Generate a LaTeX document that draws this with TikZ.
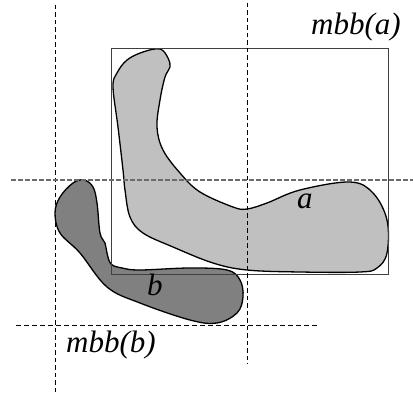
\documentclass[tikz,border=0pt]{standalone}
\usepackage{fontspec}
\setmainfont{Liberation Serif}[ItalicFont={Liberation Serif Italic}]
\begin{document}
\begin{tikzpicture}[x=1pt,y=-1pt,
  blob/.style={draw=black,line width=1.3pt},
  vguide/.style={black,line width=0.7pt,dash pattern=on 4.5pt off 3pt},
  hguideA/.style={gray!85!black,line width=1.1pt,dash pattern=on 4.5pt off 2.5pt},
  hguideB/.style={black,line width=0.8pt,dash pattern=on 5pt off 3pt},
  lbl/.style={font=\itshape\fontsize{31}{34}\selectfont,inner sep=0pt,anchor=base west}]
\useasboundingbox (0,0) rectangle (413,396);
% shape b
\draw[blob,fill={rgb,255:red,128;green,128;blue,128}] plot[smooth cycle,tension=0.6] coordinates {
 (84,180) (93,187) (97,203) (100,233) (105,243) (107,253) (111,264) (122,268) (140,270)
 (190,268) (227,270) (240,280) (243,297) (237,313) (217,323) (190,320) (140,303)
 (107,287) (80,253) (60,233) (55,213) (60,197) (73,183)};
% shape a
\draw[blob,fill={rgb,255:red,192;green,192;blue,192}] plot[smooth cycle,tension=0.6] coordinates {
 (160,49) (168,58) (170,67) (165,77) (160,100) (157,127) (163,150) (180,173) (200,192)
 (233,207) (247,209) (267,203) (300,190) (350,182) (373,193) (387,220) (387,253)
 (377,268) (360,272) (300,272) (247,270) (213,263) (173,247) (143,233) (130,217)
 (125,190) (123,170) (118,127) (113,87) (117,73) (127,60) (143,52)};
% mbb(a)
\draw[gray!50!black,line width=0.8pt] (111,48) rectangle (388,274);
% guides
\coordinate (v1t) at (55,5); \coordinate (v1b) at (55,394);
\coordinate (v2t) at (247,3); \coordinate (v2b) at (247,364);
\coordinate (h1l) at (11,180); \coordinate (h1r) at (413,180);
\coordinate (h2l) at (16,325); \coordinate (h2r) at (317,325);
\draw[vguide] (v1t) -- (v1b);
\draw[vguide] (v2t) -- (v2b);
\draw[hguideA] (h1l) -- (h1r);
\draw[hguideB] (h2l) -- (h2r);
% labels
\node[lbl] (mbba) at (311,35) {mbb(a)};
\node[lbl] (mbbb) at (66,352) {mbb(b)};
\node[lbl] (la) at (297,208) {a};
\node[lbl] (lb) at (147,295) {b};
\end{tikzpicture}
\end{document}
